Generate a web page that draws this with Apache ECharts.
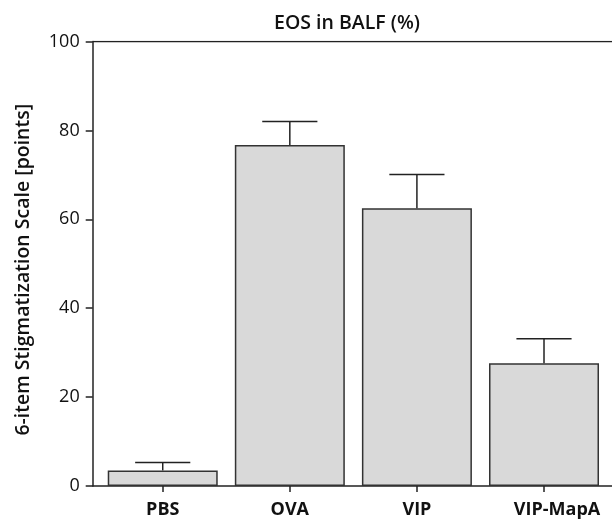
<!DOCTYPE html>
<html>
<head>
<meta charset="utf-8">
<script src="https://cdn.jsdelivr.net/npm/echarts@6/dist/echarts.min.js"></script>
<style>html,body{margin:0;padding:0;background:#fff}#c{width:612px;height:524px}</style>
</head>
<body>
<div id="c"></div>
<script>
const categories = ['PBS', 'OVA', 'VIP', 'VIP-MapA'];
const means = [3.5, 76.7, 62.5, 27.6];
const errUpper = [5.3, 82.0, 70.1, 33.1];
const yTicks = [0, 20, 40, 60, 80, 100];
const titleText = 'EOS in BALF (%)';
const yName = '6-item Stigmatization Scale [points]';

const positions = categories.map((c, i) => i + 1);
const FONT = 'Open Sans';

const chart = echarts.init(document.getElementById('c'), null, {renderer: 'canvas'});
chart.setOption({
  animation: false,
  title: {
    text: titleText, left: 342, top: 8, textAlign: 'center',
    textStyle: {fontFamily: FONT, fontSize: 19.5, fontWeight: 600, color: '#111'}
  },
  grid: {left: 92.7, right: 0, top: 41.5, bottom: 38, containLabel: false},
  xAxis: {
    type: 'value', min: 0.449, max: 4.535,
    axisLine: {show: true, onZero: false, lineStyle: {color: '#222', width: 1.5}},
    axisTick: {show: true, customValues: positions, length: 6, lineStyle: {color: '#222', width: 1.5}},
    axisLabel: {
      show: true, customValues: positions, margin: 15,
      formatter: v => {
        const name = categories[Math.round(v) - 1] || '';
        return name === 'VIP-MapA' ? '{s|' + name + '}' : name;
      },
      fontFamily: FONT, fontSize: 18, fontWeight: 'bold', color: '#111',
      rich: {s: {fontFamily: FONT, fontSize: 18, fontWeight: 'bold', color: '#111', padding: [0, 0, 0, 26]}}
    },
    splitLine: {show: false}
  },
  yAxis: [{
    type: 'value', min: 0, max: 100, interval: 20,
    name: yName, nameLocation: 'middle', nameGap: 59, nameRotate: 90,
    nameTextStyle: {fontFamily: FONT, fontSize: 19.5, fontWeight: 600, color: '#111', padding: [0, 12, 0, 0]},
    axisLine: {show: true, lineStyle: {color: '#222', width: 1.5}},
    axisTick: {show: true, length: 7, lineStyle: {color: '#222', width: 1.5}},
    axisLabel: {
      margin: 13, fontFamily: FONT, fontSize: 18, color: '#111',
      formatter: v => yTicks.indexOf(v) >= 0 ? String(v) : ''
    },
    splitLine: {show: false}
  }],
  series: [{
    type: 'bar',
    data: positions.map((p, i) => [p, means[i]]),
    barWidth: 110,
    itemStyle: {color: '#d9d9d9', borderColor: '#333', borderWidth: 1.5},
    z: 2
  }, {
    type: 'custom',
    data: positions.map((p, i) => [p, means[i], errUpper[i]]),
    renderItem: (params, api) => {
      const x = api.value(0);
      const base = api.coord([x, api.value(1)]);
      const top = api.coord([x, api.value(2)]);
      const half = api.size([1, 0])[0] * 0.217;
      const style = {stroke: '#222', lineWidth: 1.5};
      return {type: 'group', children: [
        {type: 'line', shape: {x1: base[0], y1: base[1], x2: top[0], y2: top[1]}, style},
        {type: 'line', shape: {x1: top[0] - half, y1: top[1], x2: top[0] + half, y2: top[1]}, style}
      ]};
    },
    z: 3
  }, {
    type: 'line',
    data: [[0.449, 100], [4.535, 100]],
    symbol: 'none',
    lineStyle: {color: '#222', width: 1.5},
    silent: true, z: 4
  }]
});
</script>
</body>
</html>
